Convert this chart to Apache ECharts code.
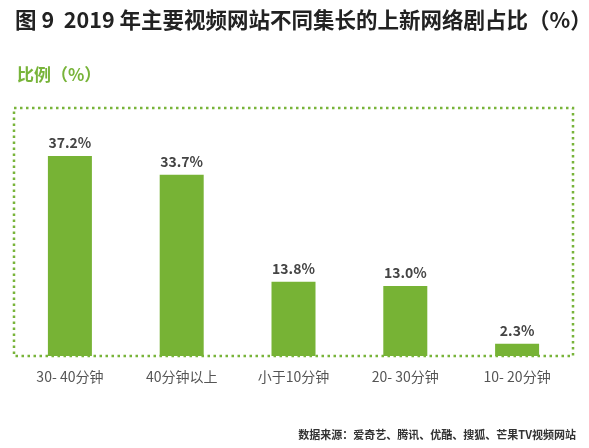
<!DOCTYPE html>
<html><head><meta charset="utf-8">
<script src="https://cdn.jsdelivr.net/npm/echarts@6/dist/echarts.min.js"></script>
<style>html,body{margin:0;padding:0;background:#fff}#c{width:589px;height:448px}</style>
</head><body><div id="c"></div>
<script>
const categories = ['30- 40分钟', '40分钟以上', '小于10分钟', '20- 30分钟', '10- 20分钟'];
const values = [37.2, 33.7, 13.8, 13.0, 2.3];
const titleText = '图 9  2019 年主要视频网站不同集长的上新网络剧占比（%）';
const unitText = '比例（%）';
const sourceText = '数据来源：爱奇艺、腾讯、优酷、搜狐、芒果TV视频网站';

const FONT = '"Noto Sans CJK SC", "Noto Sans", sans-serif';
const chart = echarts.init(document.getElementById('c'));
chart.setOption({
  backgroundColor: '#fff',
  animation: false,
  title: [
    { text: titleText, left: 10, top: 4, textStyle: { fontFamily: FONT, fontSize: 21.5, fontWeight: 'bold', color: '#222' } },
    { text: unitText, left: 12, top: 61, textStyle: { fontFamily: FONT, fontSize: 17, fontWeight: 'bold', color: '#78b43a' } },
    { text: sourceText, right: 8, top: 424, textStyle: { fontFamily: FONT, fontSize: 11, fontWeight: 'bold', color: '#333' } }
  ],
  grid: { left: 14, right: 16, top: 108, bottom: 92, show: true, borderColor: '#78b43a', borderWidth: 2.5, borderType: [2.5, 3.5], backgroundColor: 'transparent' },
  xAxis: {
    type: 'category', data: categories,
    axisLine: { show: false }, axisTick: { show: false },
    axisLabel: { fontFamily: FONT, fontSize: 14, color: '#555', margin: 14 }
  },
  yAxis: { type: 'value', min: 0, max: 46.1, show: false, splitLine: { show: false } },
  series: [{
    type: 'bar', data: values, barWidth: 44,
    itemStyle: { color: '#77b335' },
    label: { show: true, position: 'top', distance: 6, formatter: p => p.value.toFixed(1) + '%', fontFamily: FONT, fontSize: 14, fontWeight: 'bold', color: '#444' }
  }]
});
</script></body></html>
